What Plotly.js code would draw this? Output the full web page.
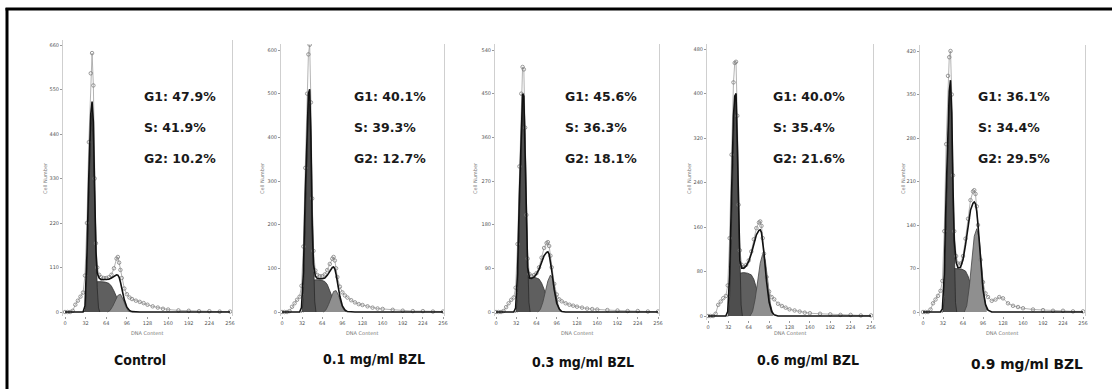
<!DOCTYPE html>
<html>
<head>
<meta charset="utf-8">
<script src="https://cdn.plot.ly/plotly-3.0.1.min.js"></script>
<style>
html,body{margin:0;padding:0;background:#fff;}
#chart{width:1112px;height:389px;}
</style>
</head>
<body>
<div id="chart"></div>
<script>
// ---------------- DATA ----------------
const conditions = ['Control', '0.1 mg/ml BZL', '0.3 mg/ml BZL', '0.6 mg/ml BZL', '0.9 mg/ml BZL'];
const g1Pct = [47.9, 40.1, 45.6, 40.0, 36.1];
const sPct  = [41.9, 39.3, 36.3, 35.4, 34.4];
const g2Pct = [10.2, 12.7, 18.1, 21.6, 29.5];

const xTickValues = [0, 32, 64, 96, 128, 160, 192, 224, 256];
const xTickLabels = ['0', '32', '64', '96', '128', '160', '192', '224', '256'];
const yAxisMax  = [660, 600, 540, 480, 420];
const yAxisStep = [110, 100, 90, 80, 70];

// DNA content channels of the measured histogram (dots) and of the fitted envelope
const channels = [0,4,8,12,16,20,24,28,31,34,37,40,42,44,46,48,50,53,56,60,64,68,72,76,80,82,84,86,88,92,96,100,104,110,116,122,128,136,144,152,160,176,192,208,224,240,256];

// measured cell counts (open dots)
const countsControl = [0,0,0,3,18,28,38,48,90,220,420,590,640,560,330,170,110,92,86,84,84,86,92,108,132,136,122,104,84,58,44,36,32,28,25,22,18,14,11,8,6,4,3,2,2,1,1];
const counts01 = [0,0,0,2,12,20,28,35,60,150,330,500,590,612,480,260,140,95,85,82,82,86,96,110,122,126,118,100,80,58,45,38,33,27,22,18,16,13,10,8,7,5,3,2,2,1,1];
const counts03 = [0,0,0,2,10,18,25,30,50,140,300,450,505,500,380,200,110,78,74,76,80,92,112,132,142,144,136,116,92,58,36,26,22,18,15,13,11,9,7,6,5,4,3,2,2,1,1];
const counts06 = [0,0,0,4,20,26,32,36,55,140,290,420,455,457,360,200,118,92,88,92,100,116,138,158,168,170,162,140,112,70,44,34,30,22,18,15,12,10,8,6,5,4,3,2,2,1,1];
const counts09 = [0,0,0,4,14,20,26,34,50,130,270,380,410,420,350,220,130,90,78,78,90,118,150,180,194,196,190,170,140,84,48,30,24,18,20,24,22,14,10,8,6,4,3,2,2,1,1];

// fitted model envelope (black line)
const fitControl = [0,0,0,0,0,0,0,0,15,140,340,490,520,470,300,150,96,84,80,80,80,81,84,88,92,91,86,74,58,30,12,4,1,0,0,0,0,0,0,0,0,0,0,0,0,0,0];
const fit01 = [0,0,0,0,0,0,0,0,10,90,270,440,500,510,400,200,110,82,77,76,76,78,84,93,102,103,99,86,68,36,14,5,1,0,0,0,0,0,0,0,0,0,0,0,0,0,0];
const fit03 = [0,0,0,0,0,0,0,0,8,80,240,400,450,445,330,170,92,70,69,72,78,88,102,116,123,124,119,106,86,46,18,6,1,0,0,0,0,0,0,0,0,0,0,0,0,0,0];
const fit06 = [0,0,0,0,0,0,0,0,8,75,220,360,395,400,310,170,100,86,86,90,98,112,130,146,154,155,150,135,112,62,25,8,2,0,0,0,0,0,0,0,0,0,0,0,0,0,0];
const fit09 = [0,0,0,0,0,0,0,0,5,60,190,310,355,373,320,200,115,80,71,72,84,108,138,164,175,177,174,162,140,84,36,12,3,0,0,0,0,0,0,0,0,0,0,0,0,0,0];

// G1 component
const g1Channels = [30,32,34,36,38,40,42,44,46,48,50,52,54];
const g1Control = [0,10,100,230,360,460,500,430,300,160,60,10,0];
const g1_01 = [0,0,40,150,280,400,480,505,420,250,100,25,0];
const g1_03 = [0,0,40,140,270,380,440,450,370,220,90,20,0];
const g1_06 = [0,0,35,130,250,350,395,400,330,200,80,20,0];
const g1_09 = [0,0,25,100,200,290,345,365,320,200,80,15,0];

// S-phase component
const sChannels = [34,38,42,44,46,50,56,62,68,72,76,80,84,88,92];
const sControl = [0,10,45,65,72,75,75,74,71,64,52,36,20,8,0];
const s01 = [0,5,35,58,68,73,74,73,70,63,50,34,18,7,0];
const s03 = [0,5,35,58,68,72,72,71,68,60,47,31,16,6,0];
const s06 = [0,5,38,62,72,77,78,77,74,66,52,35,18,7,0];
const s09 = [0,4,33,55,65,70,70,69,66,58,45,30,16,6,0];

// G2 component
const g2Channels = [66,70,74,78,82,86,90,94,98,102];
const g2Control = [0,4,14,28,41,44,32,15,3,0];
const g2_01 = [0,5,17,34,47,49,38,19,5,0];
const g2_03 = [0,5,20,42,64,76,68,42,15,0];
const g2_06 = [0,8,30,62,95,112,100,62,22,3];
const g2_09 = [0,10,40,85,122,134,118,72,25,3];

const countsAll = [countsControl, counts01, counts03, counts06, counts09];
const fitAll = [fitControl, fit01, fit03, fit06, fit09];
const g1All = [g1Control, g1_01, g1_03, g1_06, g1_09];
const sAll = [sControl, s01, s03, s06, s09];
const g2All = [g2Control, g2_01, g2_03, g2_06, g2_09];

// ---------------- LAYOUT (pixel geometry) ----------------
const W = 1112, H = 389;
const panels = [
  {x0:65,  x256:230,  y0:312, yTopPx:45, left:63,  right:232,  top:40, textX:142, labelX:140, labelY:360, titleX:45},
  {x0:282, x256:443,  y0:312, yTopPx:50, left:281, right:444,  top:44, textX:352, labelX:374, labelY:359, titleX:262},
  {x0:496, x256:658,  y0:312, yTopPx:50, left:495, right:659,  top:44, textX:563, labelX:583, labelY:362, titleX:475},
  {x0:708, x256:871,  y0:316, yTopPx:49, left:707, right:873,  top:44, textX:771, labelX:808, labelY:360, titleX:689},
  {x0:923, x256:1083, y0:312, yTopPx:51, left:920, right:1085, top:45, textX:976, labelX:1027, labelY:364, titleX:903}
];

const traces = [];
const layout = {
  width: W, height: H,
  margin: {l:0, r:0, t:0, b:0},
  paper_bgcolor: '#ffffff',
  plot_bgcolor: 'rgba(0,0,0,0)',
  showlegend: false,
  annotations: [],
  shapes: [
    {type:'line', xref:'paper', yref:'paper', x0:7/W, x1:7/W, y0:0, y1:1-8/H, line:{color:'#000', width:3}},
    {type:'line', xref:'paper', yref:'paper', x0:5.5/W, x1:1, y0:1-9/H, y1:1-9/H, line:{color:'#000', width:3}}
  ]
};

const tickFont = {family:'DejaVu Sans, sans-serif', size:5, color:'#555'};

panels.forEach((p, i) => {
  const n = i + 1;
  const xa = 'x' + (n === 1 ? '' : n), ya = 'y' + (n === 1 ? '' : n);
  const kx = (p.x256 - p.x0) / 256;
  const ky = (p.y0 - p.yTopPx) / yAxisMax[i];
  const bottom = p.y0 + 4;
  const xr = [(p.left - p.x0) / kx, (p.right - p.x0) / kx];
  const yr = [(p.y0 - bottom) / ky, (p.y0 - p.top) / ky];
  const yTicks = [];
  for (let v = 0; v <= yAxisMax[i]; v += yAxisStep[i]) yTicks.push(v);

  layout['xaxis' + (n === 1 ? '' : n)] = {
    domain: [p.left / W, p.right / W], range: xr, anchor: ya,
    showgrid: false, zeroline: false, showline: false,
    tickmode: 'array', tickvals: xTickValues, ticktext: xTickLabels,
    ticks: 'outside', ticklen: 2, tickcolor: '#999', tickfont: tickFont,
    fixedrange: true
  };
  layout['yaxis' + (n === 1 ? '' : n)] = {
    domain: [1 - bottom / H, 1 - p.top / H], range: yr, anchor: xa,
    showgrid: false, zeroline: false, showline: true, linecolor: '#cfcfcf', linewidth: 1, mirror: true,
    tickmode: 'array', tickvals: yTicks, ticktext: yTicks.map(String),
    ticks: 'outside', ticklen: 2, tickcolor: '#999', tickfont: tickFont,
    fixedrange: true
  };

  const common = {xaxis: xa, yaxis: ya, hoverinfo: 'skip', showlegend: false};
  traces.push(Object.assign({type:'scatter', mode:'lines', x: sChannels, y: sAll[i], fill:'tozeroy',
    fillcolor:'#5f5f5f', line:{color:'#333', width:0.8}}, common));
  traces.push(Object.assign({type:'scatter', mode:'lines', x: g2Channels, y: g2All[i], fill:'tozeroy',
    fillcolor:'#8f8f8f', line:{color:'#444', width:0.8}}, common));
  traces.push(Object.assign({type:'scatter', mode:'lines', x: g1Channels, y: g1All[i], fill:'tozeroy',
    fillcolor:'#4e4e4e', line:{color:'#2a2a2a', width:0.8}}, common));
  traces.push(Object.assign({type:'scatter', mode:'lines+markers', x: channels, y: countsAll[i],
    line:{color:'#a0a0a0', width:0.8},
    marker:{symbol:'circle-open', size:3.5, color:'#808080', line:{width:0.8, color:'#808080'}}}, common));
  traces.push(Object.assign({type:'scatter', mode:'lines', x: channels, y: fitAll[i],
    line:{color:'#111', width:1.6}}, common));

  const txtFont = {family:'DejaVu Sans, Verdana, sans-serif', size:12.5, color:'#1a1a1a', weight:'bold'};
  [['G1: ' + g1Pct[i].toFixed(1) + '%', 96], ['S: ' + sPct[i].toFixed(1) + '%', 127], ['G2: ' + g2Pct[i].toFixed(1) + '%', 158]]
    .forEach(([t, y]) => layout.annotations.push({
      xref:'paper', yref:'paper', x: p.textX / W, y: 1 - y / H, xanchor:'left', yanchor:'middle',
      text: '<b>' + t + '</b>', showarrow:false, font: txtFont
    }));

  // condition label
  const last = i === 4;
  layout.annotations.push({
    xref:'paper', yref:'paper', x: p.labelX / W, y: 1 - p.labelY / H, xanchor:'center', yanchor:'middle',
    text: '<b>' + conditions[i] + '</b>', showarrow:false,
    font: last ? {family:'DejaVu Sans, sans-serif', size:13.8, color:'#111'}
               : {family:'DejaVu Sans Condensed, Liberation Sans Narrow, Arial Narrow, Liberation Sans, sans-serif', size:14, color:'#111'}
  });
  // axis titles
  layout.annotations.push({
    xref:'paper', yref:'paper', x: p.titleX / W, y: 1 - 178 / H, xanchor:'center', yanchor:'middle',
    text:'Cell Number', textangle:-90, showarrow:false, font:{family:'DejaVu Sans, sans-serif', size:5, color:'#777'}
  });
  layout.annotations.push({
    xref:'paper', yref:'paper', x: ((p.left + p.right) / 2) / W, y: 1 - 333 / H, xanchor:'center', yanchor:'middle',
    text:'DNA Content', showarrow:false, font:{family:'DejaVu Sans, sans-serif', size:5, color:'#777'}
  });
});

Plotly.newPlot('chart', traces, layout, {staticPlot:true, displayModeBar:false});
</script>
</body>
</html>
